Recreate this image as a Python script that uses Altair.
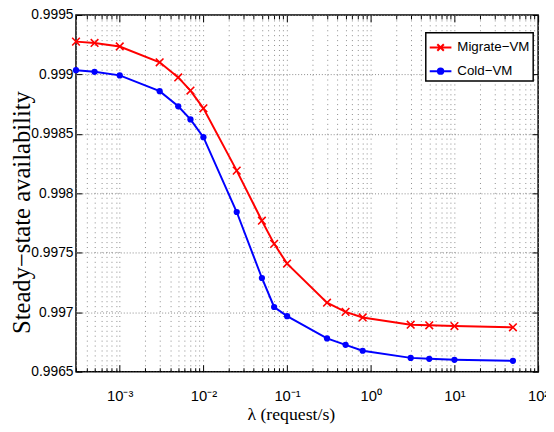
import altair as alt
import pandas as pd

# ---- data ----
lam = [3e-4, 5e-4, 1e-3, 3e-3, 5e-3, 7e-3, 0.01, 0.025, 0.05, 0.07, 0.1,
       0.3, 0.5, 0.8, 3, 5, 10, 50]
migrate_vm = [0.999276, 0.999265, 0.999235, 0.999102, 0.998975, 0.998864,
              0.998715, 0.998191, 0.997770, 0.997575, 0.997409, 0.997080,
              0.997003, 0.996956, 0.996895, 0.996890, 0.996884, 0.996873]
cold_vm = [0.999036, 0.999022, 0.998992, 0.998859, 0.998732, 0.998622,
           0.998472, 0.997843, 0.997288, 0.997044, 0.996967, 0.996780,
           0.996726, 0.996676, 0.996616, 0.996608, 0.996600, 0.996591]
series_names = ["Migrate\u2212VM", "Cold\u2212VM"]
series_colors = ["#ff0000", "#0000ff"]

x_major = [1e-3, 1e-2, 1e-1, 1, 10, 100]
x_minor_mult = [2, 3, 4, 5, 6, 7, 8, 9]
x_minor_decades = [1e-4, 1e-3, 1e-2, 1e-1, 1, 10]
y_ticks = [0.9965, 0.997, 0.9975, 0.998, 0.9985, 0.999, 0.9995]
x_domain = [3e-4, 100]
y_domain = [0.9965, 0.9995]

x_minor = [round(m * d, 10) for d in x_minor_decades for m in x_minor_mult
           if x_domain[0] <= m * d <= x_domain[1]]

n = len(lam)
df = pd.DataFrame({
    "lam": lam + lam,
    "avail": migrate_vm + cold_vm,
    "series": [series_names[0]] * n + [series_names[1]] * n,
})

SANS = "Liberation Sans, Arial, sans-serif"
SERIF = "Liberation Serif, Times New Roman, serif"

XPATH = "M-1,-1L1,1M-1,1L1,-1"
LEG_X = "M-1,0L1,0M-0.3,-0.3L0.3,0.3M-0.3,0.3L0.3,-0.3"
LEG_O = "M-1,0L1,0M0.25,0A0.25,0.25,0,1,1,-0.25,0A0.25,0.25,0,1,1,0.25,0Z"

xscale = alt.Scale(type="log", domain=x_domain, nice=False)
yscale = alt.Scale(domain=y_domain, nice=False, zero=False)
cscale = alt.Scale(domain=series_names, range=series_colors)
sscale = alt.Scale(domain=series_names, range=[LEG_X, LEG_O])

sup = "['\u2070','\u00b9','\u00b2','\u00b3','\u2074']"
label_expr = ("'10' + (datum.value < 1 ? '\u207b' : '') + "
              + sup + "[abs(round(log(datum.value)/LN10))]")

GRID = "#8a8a8a"

ax_bottom_major = alt.Axis(
    orient="bottom", values=x_major, labelExpr=label_expr, grid=True,
    gridDash=[1, 4], gridColor=GRID, gridWidth=1, domain=False,
    tickSize=alt.ExprRef(expr="-7"), tickColor="black", tickWidth=1,
    labelFont=SANS, labelFontSize=15, labelColor="black", labelPadding=24,
    labelFlush=False, labelOverlap=False,
    title="\u03bb (request/s)", titleFont=SERIF, titleFontSize=18,
    titleFontWeight="normal", titleColor="black", titleX=218, titleY=44,
    titleBaseline="middle", titleAlign="center")
ax_bottom_minor = alt.Axis(
    orient="bottom", values=x_minor, labels=False, grid=True,
    gridDash=[1, 4], gridColor=GRID, gridWidth=1, domain=False,
    tickSize=alt.ExprRef(expr="-4"), tickColor="black", title=None)
ax_top_major = alt.Axis(
    orient="top", values=x_major, labels=False, grid=False, domain=False,
    tickSize=alt.ExprRef(expr="-7"), tickColor="black", title=None)
ax_top_minor = alt.Axis(
    orient="top", values=x_minor, labels=False, grid=False, domain=False,
    tickSize=alt.ExprRef(expr="-4"), tickColor="black", title=None)

ax_left = alt.Axis(
    orient="left", values=y_ticks, format=".4~f", grid=True,
    gridDash=[1, 2], gridColor=GRID, gridWidth=1, domain=False,
    tickSize=alt.ExprRef(expr="-6"), tickColor="black",
    labelFont=SANS, labelFontSize=14, labelColor="black", labelPadding=9,
    labelFlush=False, labelOverlap=False,
    title="Steady\u2212state availability", titleFont=SERIF, titleFontSize=25,
    titleFontWeight="normal", titleColor="black", titleAngle=270,
    titleX=-55, titleY=200, titleBaseline="middle", titleAlign="center")
ax_right = alt.Axis(
    orient="right", values=y_ticks, labels=False, grid=False, domain=False,
    tickSize=alt.ExprRef(expr="-6"), tickColor="black", title=None)

base = alt.Chart(df)
is_mig = alt.datum.series == series_names[0]
is_cold = alt.datum.series == series_names[1]

red_line = base.transform_filter(is_mig).mark_line(
    strokeWidth=2, color=series_colors[0]
).encode(
    x=alt.X("lam:Q", scale=xscale, axis=ax_bottom_major),
    y=alt.Y("avail:Q", scale=yscale, axis=ax_left),
)

blue_line = base.transform_filter(is_cold).mark_line(
    strokeWidth=2, color=series_colors[1]
).encode(
    x=alt.X("lam:Q", scale=xscale, axis=ax_bottom_minor),
    y=alt.Y("avail:Q", scale=yscale, axis=ax_right),
)

red_pts = base.transform_filter(is_mig).mark_point(
    shape=XPATH, size=60, strokeWidth=1.6, filled=False, opacity=1,
    color=series_colors[0]
).encode(
    x=alt.X("lam:Q", scale=xscale, axis=ax_top_major),
    y=alt.Y("avail:Q", scale=yscale, axis=None),
)

blue_pts = base.transform_filter(is_cold).mark_point(
    shape="circle", size=40, filled=True, opacity=1, color=series_colors[1]
).encode(
    x=alt.X("lam:Q", scale=xscale, axis=ax_top_minor),
    y=alt.Y("avail:Q", scale=yscale, axis=None),
)

leg = alt.Legend(title=None, orient="none", legendX=355, legendY=18)
legend_layer = base.mark_point(filled=True, opacity=1, strokeWidth=2, clip=True).encode(
    x=alt.X("lam:Q", scale=xscale, axis=None),
    y=alt.value(-300),
    fill=alt.Fill("series:N", scale=cscale, legend=leg),
    stroke=alt.Stroke("series:N", scale=cscale, legend=leg),
    shape=alt.Shape("series:N", scale=sscale, legend=leg),
)

chart = alt.layer(red_line, blue_line, red_pts, blue_pts, legend_layer).resolve_axis(
    x="independent", y="independent"
).properties(
    width=469, height=362,
    autosize=alt.AutoSizeParams(type="none"),
    padding={"left": 69, "top": 4, "right": 8, "bottom": 50},
    background="white",
).configure_view(
    stroke="black", strokeWidth=1.5
).configure_legend(
    symbolSize=484, symbolStrokeWidth=2, symbolOpacity=1,
    labelFont=SANS, labelFontSize=13.5, labelColor="black", labelOffset=5,
    padding=3, rowPadding=4, strokeColor="black", strokeWidth=1.5,
    fillColor="white", cornerRadius=0, labelLimit=200,
)

chart.save("out.html", embed_options={"renderer": "svg", "actions": False})
